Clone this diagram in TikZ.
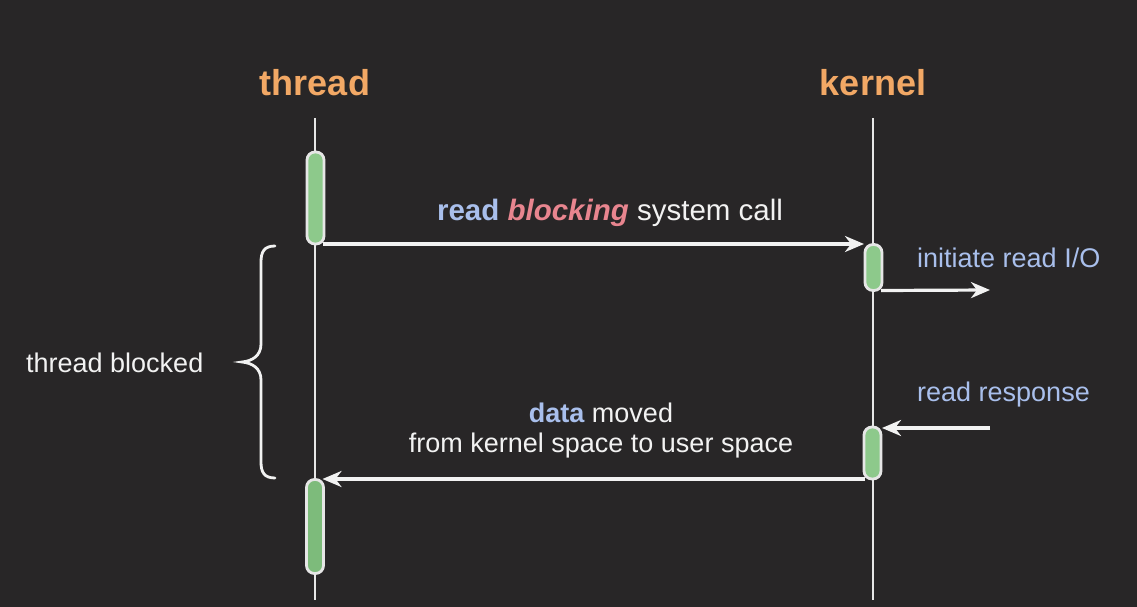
\documentclass[tikz,border=0pt]{standalone}
\usepackage{fontspec}
\setmainfont{Liberation Sans}
\usetikzlibrary{arrows.meta}
\definecolor{bg}{HTML}{282627}
\definecolor{titleor}{HTML}{F2A865}
\definecolor{lblue}{HTML}{A9BFEC}
\definecolor{pinkc}{HTML}{E8858F}
\definecolor{greenA}{HTML}{8DC98B}
\definecolor{greenB}{HTML}{7DBB7B}
\definecolor{linec}{HTML}{E6E6E6}
\definecolor{txtw}{HTML}{F2F2F2}
\tikzset{
  lifeline/.style={draw=linec, line width=2.8pt},
  act/.style={draw=linec, line width=2.8pt, rounded corners=8pt, minimum width=17pt, inner sep=0pt, outer sep=0pt},
  arr/.style={draw=txtw, line width=3.2pt, -{Stealth[length=19pt,width=16pt,inset=6pt]}},
  title/.style={font=\fontsize{36}{40}\selectfont\bfseries, text=titleor},
  lbl/.style={font=\fontsize{27}{32}\selectfont, text=txtw, inner sep=0pt},
  brace/.style={draw=txtw, line width=2.8pt, line cap=round},
}
\begin{document}
\begin{tikzpicture}[x=1pt,y=-1pt]
\fill[bg] (0,0) rectangle (1137,607);
\useasboundingbox (0,0) rectangle (1137,607);
% titles
\node[title] (thd) at (315,83) {thread};
\node[title] (krn) at (873,83) {kernel};
% lifelines
\coordinate (tTop) at (315,118);
\coordinate (tBot) at (315,600);
\coordinate (kTop) at (873,118);
\coordinate (kBot) at (873,600);
\draw[lifeline] (tTop) -- (tBot);
\draw[lifeline] (kTop) -- (kBot);
% activation boxes
\node[act, fill=greenA, minimum height=92pt] (t1) at (315.5,198) {};
\node[act, fill=greenA, minimum height=46pt] (k1) at (873.5,267.5) {};
\node[act, fill=greenA, minimum height=52pt] (k2) at (872.5,453) {};
\node[act, fill=greenB, minimum height=94pt] (t2) at (315,526.5) {};
% arrows
\draw[arr] ([xshift=-1pt]t1.south east) -- ([xshift=-1pt]t1.south east -| k1.west);
\coordinate (io) at (990,290);
\draw[arr] ([xshift=-1pt]k1.south east) -- (io);
\coordinate (resp) at (990,428);
\draw[arr] (resp) -- ([xshift=1pt]resp -| k2.east);
\draw[arr] ([xshift=1pt]k2.south west) -- ([xshift=-1pt]k2.south west -| t2.east);
% labels
\node[lbl, font=\fontsize{29.5}{34}\selectfont] (l1) at (610,213) {\textcolor{lblue}{\bfseries read} \textcolor{pinkc}{\bfseries\itshape blocking} system call};
\node[lbl, anchor=west, text=lblue] (l2) at (917,258) {initiate read I/O};
\node[lbl, anchor=west, text=lblue] (l3) at (917,395) {read response};
\node[lbl] (l4) at (601,413) {\textcolor{lblue}{\bfseries data} moved};
\node[lbl] (l5) at (601,446) {from kernel space to user space};
\node[lbl, anchor=west] (l6) at (26,363) {thread blocked};
% brace
\draw[brace] (275,246) .. controls (264,246) and (261,252) .. (261,262)
  -- (261,344) .. controls (261,356) and (252,361) .. (242,362)
  .. controls (252,363) and (261,368) .. (261,380)
  -- (261,462) .. controls (261,472) and (264,478) .. (275,478);
\end{tikzpicture}
\end{document}
